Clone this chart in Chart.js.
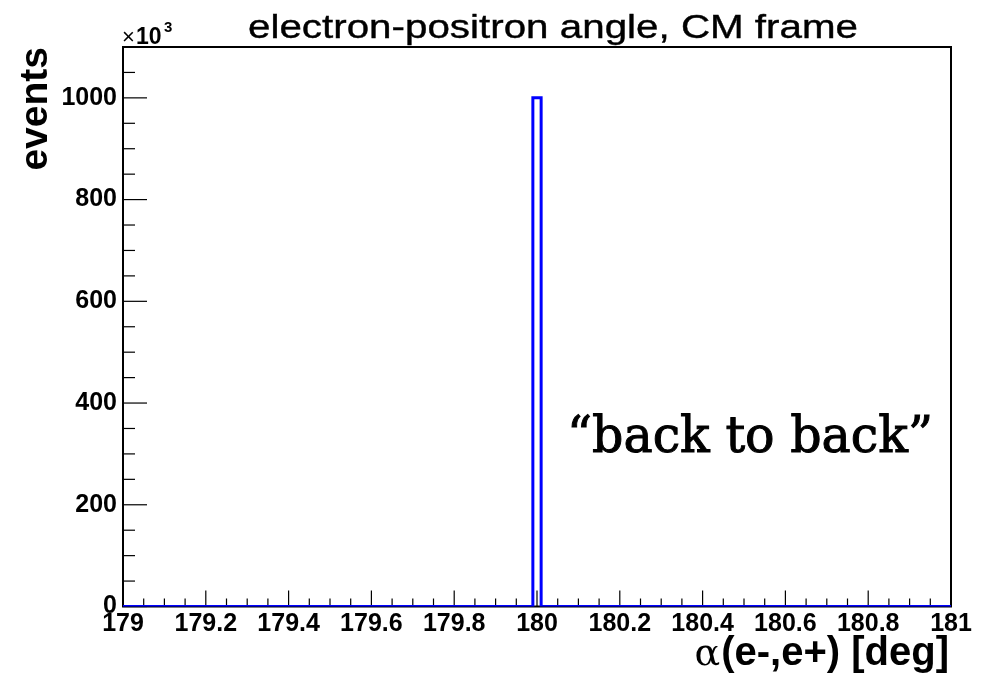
<!DOCTYPE html>
<html>
<head>
<meta charset="utf-8">
<script src="https://cdn.jsdelivr.net/npm/chart.js@4.4.1/dist/chart.umd.min.js"></script>
<style>
  html, body { margin: 0; padding: 0; background: #fff; }
  #wrap { width: 988px; height: 678px; }
</style>
</head>
<body>
<div id="wrap"><canvas id="angleChart" width="988" height="678"></canvas></div>
<script>
// opening angle between e- and e+ in the CM frame, counts in units of 10^3
var binEdges = [179, 179.99, 180.01, 181];
var binCounts = [0, 1000, 0];
var xTicks = [179, 179.2, 179.4, 179.6, 179.8, 180, 180.2, 180.4, 180.6, 180.8, 181];
var yTicks = [0, 200, 400, 600, 800, 1000];
var xRange = [179, 181];
var yRange = [0, 1100];

var titleText = 'electron-positron angle, CM frame';
var yTitle = 'events';
var xTitleSym = '\u03b1';
var xTitleRest = '(e-,e+) [deg]';
var noteText = '\u201cback to back\u201d';

// step outline: each count is held until the next edge
var histPoints = [];
for (var i = 0; i < binCounts.length; i++) {
  histPoints.push({ x: binEdges[i], y: binCounts[i] });
}
histPoints.push({ x: binEdges[binEdges.length - 1], y: binCounts[binCounts.length - 1] });

var SANS = '"Liberation Sans", Arial, sans-serif';
var SERIF = '"DejaVu Serif", serif';

function seg(ctx, x1, y1, x2, y2) {
  ctx.beginPath();
  ctx.moveTo(x1, y1);
  ctx.lineTo(x2, y2);
  ctx.stroke();
}

// text squeezed/stretched horizontally to a given width
function fitText(ctx, txt, font, x, y, width, align, outline) {
  ctx.save();
  ctx.font = font;
  var w = ctx.measureText(txt).width;
  var sx = width / w;
  ctx.translate(x, y);
  ctx.scale(sx, 1);
  ctx.textAlign = align || 'left';
  ctx.textBaseline = 'alphabetic';
  ctx.fillText(txt, 0, 0);
  if (outline) {
    ctx.lineWidth = outline;
    ctx.strokeStyle = ctx.fillStyle;
    ctx.strokeText(txt, 0, 0);
  }
  ctx.restore();
}

var rootFrame = {
  id: 'rootFrame',
  beforeDatasetsDraw: function(chart) {
    var ctx = chart.ctx, a = chart.chartArea;
    var xs = chart.scales.x, ys = chart.scales.y;
    ctx.save();
    ctx.strokeStyle = '#000';
    ctx.lineWidth = 2;
    ctx.strokeRect(a.left, a.top, a.right - a.left, a.bottom - a.top);

    ctx.lineWidth = 1.2;
    // x ticks point up into the frame
    for (var i = 0; i < xTicks.length; i++) {
      var px = xs.getPixelForValue(xTicks[i]);
      seg(ctx, px, a.bottom, px, a.bottom - 16);
      if (i < xTicks.length - 1) {
        var d = (xTicks[i + 1] - xTicks[i]) / 4;
        for (var k = 1; k < 4; k++) {
          var mx = xs.getPixelForValue(xTicks[i] + k * d);
          seg(ctx, mx, a.bottom, mx, a.bottom - 8);
        }
      }
    }
    // y ticks point right into the frame
    var step = (yTicks[1] - yTicks[0]) / 4;
    for (var j = 0; j < yTicks.length; j++) {
      var py = ys.getPixelForValue(yTicks[j]);
      seg(ctx, a.left, py, a.left + 24, py);
    }
    for (var v = yTicks[0] + step; v < yRange[1]; v += step) {
      if (yTicks.indexOf(v) >= 0) continue;
      var my = ys.getPixelForValue(v);
      seg(ctx, a.left, my, a.left + 12, my);
    }
    ctx.restore();
  },
  afterDraw: function(chart) {
    var ctx = chart.ctx, a = chart.chartArea;
    ctx.save();
    ctx.fillStyle = '#000';

    // histogram title
    fitText(ctx, titleText, '33px ' + SANS, 553, 38, 610, 'center', 0.4);

    // exponent of the y axis
    ctx.textAlign = 'left';
    ctx.textBaseline = 'alphabetic';
    ctx.font = '22px ' + SANS;
    ctx.fillText('\u00d7', a.left - 1, 44);
    ctx.font = 'bold 23px ' + SANS;
    ctx.fillText('10', a.left + 13, 44);
    ctx.font = 'bold 15px ' + SANS;
    ctx.fillText('3', a.left + 41, 32);

    // x axis title, right aligned to the frame
    ctx.font = 'bold 40px ' + SANS;
    var wRest = ctx.measureText(xTitleRest).width;
    ctx.textAlign = 'right';
    ctx.fillText(xTitleRest, a.right - 2, 665);
    ctx.font = '38px ' + SERIF;
    ctx.fillText(xTitleSym, a.right - 3 - wRest, 665);

    // annotation
    fitText(ctx, noteText, '50px ' + SERIF, 567, 452, 366, 'left', 1.0);
    ctx.restore();
  }
};

var ctx = document.getElementById('angleChart').getContext('2d');
var angleChart = new Chart(ctx, {
  type: 'line',
  data: {
    datasets: [{
      data: histPoints,
      stepped: true,
      borderColor: '#0000ff',
      borderWidth: 3,
      pointRadius: 0,
      fill: false
    }]
  },
  options: {
    responsive: false,
    devicePixelRatio: 1,
    animation: false,
    layout: { padding: { top: 47, right: 37, bottom: 0, left: 0 } },
    plugins: { legend: { display: false }, tooltip: { enabled: false } },
    scales: {
      x: {
        type: 'linear',
        min: xRange[0],
        max: xRange[1],
        afterBuildTicks: function(s) { s.ticks = xTicks.map(function(v) { return { value: v }; }); },
        afterFit: function(s) { s.height = 71.5; },
        grid: { display: false, drawTicks: false },
        border: { display: false },
        ticks: {
          autoSkip: false,
          maxRotation: 0,
          padding: 3,
          color: '#000',
          font: { family: SANS, size: 25, weight: 'bold' },
          callback: function(v) { return String(v); }
        }
      },
      y: {
        min: yRange[0],
        max: yRange[1],
        afterBuildTicks: function(s) { s.ticks = yTicks.map(function(v) { return { value: v }; }); },
        afterFit: function(s) { s.width = 123; },
        grid: { display: false, drawTicks: false },
        border: { display: false },
        ticks: {
          padding: 6,
          color: '#000',
          font: { family: SANS, size: 25, weight: 'bold' },
          callback: function(v) { return String(v); }
        },
        title: {
          display: true,
          text: yTitle,
          align: 'end',
          color: '#000',
          padding: { top: 13 },
          font: { family: SANS, size: 39, weight: 'bold' }
        }
      }
    }
  },
  plugins: [rootFrame]
});
</script>
</body>
</html>
